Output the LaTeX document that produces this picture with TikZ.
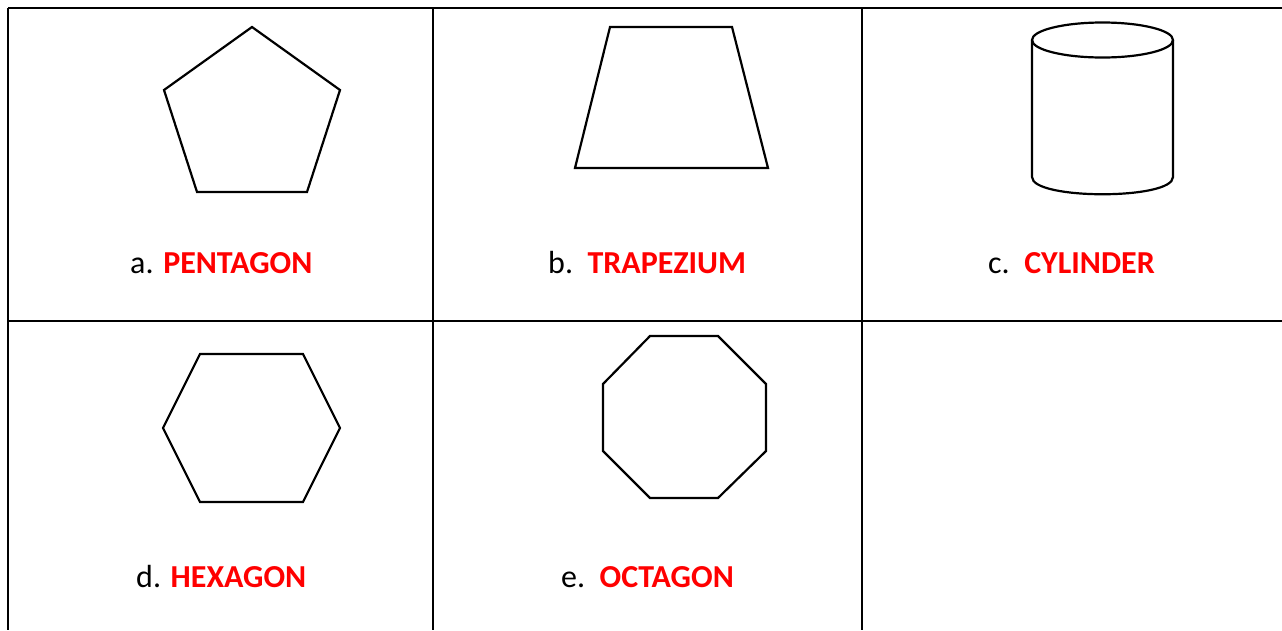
\documentclass[tikz,border=0pt]{standalone}
\usepackage{fontspec}
\setmainfont{Carlito}
\usepackage{xcolor}
\usetikzlibrary{positioning, calc}
\tikzset{
    tableline/.style={draw=black, line width=2.4pt},
    outline/.style={draw=black, line width=2.2pt, line join=miter},
    lbl/.style={anchor=base west, inner sep=0pt, font=\fontsize{32}{38}\selectfont}
}
\newcommand{\shapename}[1]{\textcolor{red}{\bfseries #1}}

\begin{document}
\begin{tikzpicture}[x=1pt, y=-1pt]
    \useasboundingbox (0,0) rectangle (1282,630);

    % table
    \draw[tableline] (8,8) -- (1282,8);
    \draw[tableline] (8,321) -- (1282,321);
    \foreach \xx in {8, 433, 862} {
        \draw[tableline] (\xx,8) -- (\xx,630);
    }

    % pentagon
    \draw[outline] (252,27) -- (340,90) -- (307,192) -- (197,192) -- (164,90) -- cycle;
    \node[lbl] (labelA) at (130,273) {a. \shapename{PENTAGON}};

    % trapezium
    \draw[outline] (610,27) -- (732,27) -- (768,168) -- (575,168) -- cycle;
    \node[lbl] (labelB) at (548,273) {b.\ \ \shapename{TRAPEZIUM}};

    % cylinder
    \draw[outline] (1102.5,40) ellipse [x radius=70.5, y radius=17.5];
    \draw[outline] (1032,40) -- (1032,177)
        .. controls (1032,200) and (1173,200) .. (1173,177) -- (1173,40);
    \node[lbl] (labelC) at (988,273) {c.\ \ \shapename{CYLINDER}};

    % hexagon
    \draw[outline] (200,354) -- (303,354) -- (340,428) -- (303,502) -- (200,502) -- (163,428) -- cycle;
    \node[lbl] (labelD) at (136,587) {d. \shapename{HEXAGON}};

    % octagon
    \draw[outline] (650,336) -- (718,336) -- (766,384) -- (766,451) -- (718,498)
        -- (650,498) -- (603,451) -- (603,384) -- cycle;
    \node[lbl] (labelE) at (561,587) {e.\ \ \shapename{OCTAGON}};
\end{tikzpicture}
\end{document}
